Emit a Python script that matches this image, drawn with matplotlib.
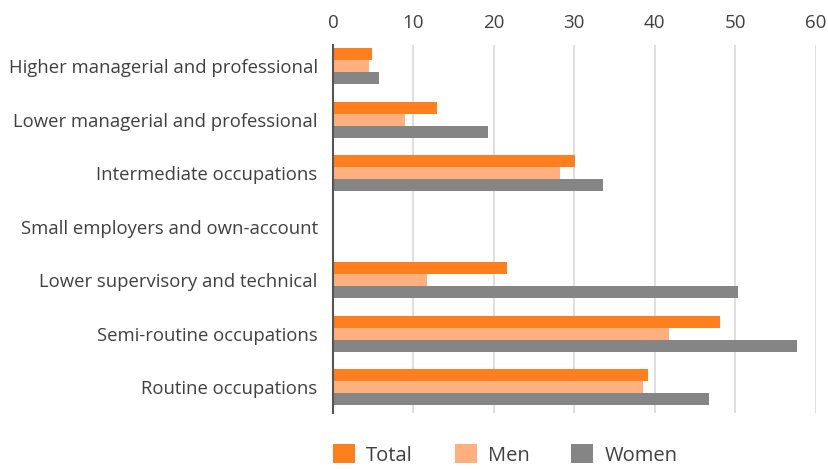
import matplotlib
matplotlib.use("Agg")
import matplotlib.pyplot as plt
import numpy as np

categories = [
    "Higher managerial and professional",
    "Lower managerial and professional",
    "Intermediate occupations",
    "Small employers and own-account",
    "Lower supervisory and technical",
    "Semi-routine occupations",
    "Routine occupations",
]
total = [4.9, 12.9, 30.1, np.nan, 21.6, 48.1, 39.1]
men = [4.5, 8.9, 28.2, np.nan, 11.7, 41.8, 38.5]
women = [5.7, 19.3, 33.5, np.nan, 50.4, 57.7, 46.7]
series_names = ["Total", "Men", "Women"]
colors = ["#ff7f1e", "#ffb07e", "#858585"]
xticks = [0, 10, 20, 30, 40, 50, 60]

plt.rcParams['font.family'] = ['Open Sans', 'DejaVu Sans']

fig = plt.figure(figsize=(8.29, 4.69), dpi=100)
ax = fig.add_axes([333/829, 1-413/469, (815.7-333)/829, (413-45)/469])

y = np.arange(len(categories))
h = 0.225
for i, (vals, name, c) in enumerate(zip([total, men, women], series_names, colors)):
    ax.barh(y + (i - 1) * h, vals, height=h, color=c, label=name, zorder=3)

ax.set_xlim(0, 60)
ax.set_ylim(6.48, -0.4)
ax.set_yticks(y)
ax.set_yticklabels(categories, fontsize=13.3, color="#404040")
ax.set_xticks(xticks)
ax.set_xticklabels([str(t) for t in xticks], fontsize=13.5, color="#404040")
ax.xaxis.tick_top()
ax.tick_params(axis="both", length=0)
ax.tick_params(axis="x", pad=9)
ax.tick_params(axis="y", pad=11)
ax.grid(axis="x", color="#d9d9d9", linewidth=1.2, zorder=0)
for s in ["top", "right", "bottom"]:
    ax.spines[s].set_visible(False)
ax.spines["left"].set_color("#555555")
ax.spines["left"].set_linewidth(1.5)
ax.spines["left"].set_zorder(4)

leg = fig.legend(loc="center left", bbox_to_anchor=(325/829, 1 - 455/469), ncol=3, frameon=False,
                 fontsize=14.5, handlelength=1.09, handleheight=1.09, columnspacing=2.08,
                 handletextpad=0.55, borderaxespad=0)
for t in leg.get_texts():
    t.set_color("#404040")

fig.savefig("out.png", dpi=100)
